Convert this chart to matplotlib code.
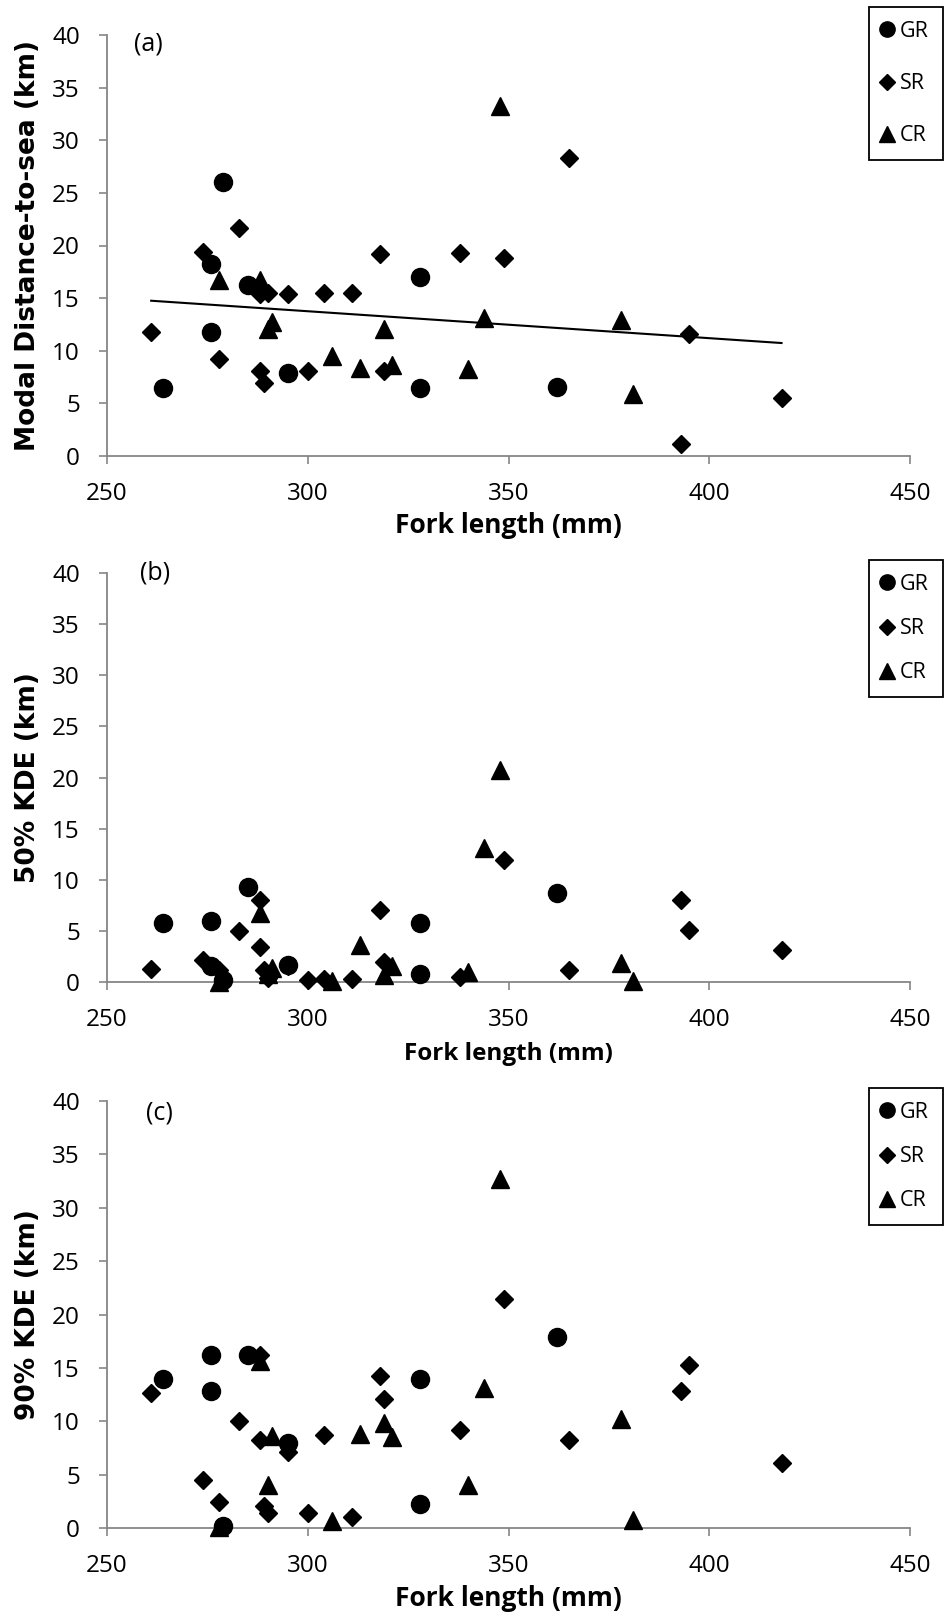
import numpy as np
import matplotlib
matplotlib.use("Agg")
import matplotlib.pyplot as plt
from matplotlib.lines import Line2D

# ---------------- data ----------------
GR_FL = [264, 276, 276, 279, 285, 295, 328, 328, 362]
GR_modal = [6.5, 18.2, 11.75, 26.0, 16.2, 7.85, 17.0, 6.5, 6.6]
GR_kde50 = [5.78, 6.0, 1.55, 0.15, 9.3, 1.67, 5.75, 0.78, 8.67]
GR_kde90 = [13.96, 16.16, 12.8, 0.2, 16.25, 8.0, 13.96, 2.28, 17.85]

SR_FL = [261, 274, 278, 283, 288, 288, 289, 290, 295, 300, 304, 311, 318, 319,
         338, 349, 365, 393, 395, 418]
SR_modal = [11.75, 19.35, 9.2, 21.65, 15.4, 8.1, 6.9, 15.5, 15.4, 8.05, 15.45,
            15.45, 19.2, 8.05, 19.3, 18.85, 28.3, 1.15, 11.6, 5.55]
SR_kde50 = [1.24, 2.2, 1.2, 5.03, 8.05, 3.46, 1.18, 0.36, 1.6, 0.24, 0.3, 0.33,
            7.06, 2.0, 0.5, 11.95, 1.18, 8.05, 5.04, 3.09]
SR_kde90 = [12.65, 4.5, 2.45, 10.0, 16.25, 8.2, 2.1, 1.4, 7.1, 1.42, 8.75, 1.0,
            14.25, 12.1, 9.15, 21.45, 8.2, 12.85, 15.3, 6.05]

CR_FL = [278, 288, 290, 291, 306, 313, 319, 321, 340, 344, 348, 378, 381]
CR_modal = [16.7, 16.7, 12.1, 12.75, 9.5, 8.35, 12.1, 8.6, 8.3, 13.15, 33.3, 12.9, 5.9]
CR_kde50 = [0.0, 6.7, 0.8, 1.4, 0.05, 3.65, 0.7, 1.6, 1.0, 13.1, 20.7, 1.85, 0.1]
CR_kde90 = [0.1, 15.6, 4.05, 8.6, 0.7, 8.8, 9.8, 8.5, 4.0, 13.1, 32.7, 10.2, 0.75]

series_labels = ["GR", "SR", "CR"]
panel_letters = ["(a)", "(b)", "(c)"]
y_titles = ["Modal Distance-to-sea (km)", "50% KDE (km)", "90% KDE (km)"]
x_title = "Fork length (mm)"
x_ticks = [250, 300, 350, 400, 450]
y_ticks = [0, 5, 10, 15, 20, 25, 30, 35, 40]

# ---------------- layout ----------------
W, H = 946, 1618
fig = plt.figure(figsize=(W / 100, H / 100), dpi=100)

AX_L, AX_R = 107, 910
panels = [  # (top px, bottom px, xlabel centre px, xlabel size, legend top, label spacing)
    (35, 456, 525, 19, 7, 1.45),
    (573, 982, 1054, 17.5, 560, 1.08),
    (1101, 1528, 1599, 19, 1088, 1.08),
]
letter_pos = [(148, 44), (155, 573), (159, 1113)]

GREY = "#868686"
TICKFONT = "Open Sans"

markers = {"GR": ("o", 13), "SR": ("D", 9.3), "CR": ("^", 12.5)}
leg_markers = {"GR": ("o", 11), "SR": ("D", 7.8), "CR": ("^", 11)}

datasets = [
    (GR_modal, SR_modal, CR_modal),
    (GR_kde50, SR_kde50, CR_kde50),
    (GR_kde90, SR_kde90, CR_kde90),
]
fls = (GR_FL, SR_FL, CR_FL)

for i, (top, bot, xl_c, xl_size, leg_top, lspace) in enumerate(panels):
    ax = fig.add_axes([AX_L / W, 1 - bot / H, (AX_R - AX_L) / W, (bot - top) / H])
    for name, fl, vals in zip(series_labels, fls, datasets[i]):
        m, ms = markers[name]
        ax.plot(fl, vals, linestyle="none", marker=m, markersize=ms,
                color="black", markeredgecolor="black", clip_on=False, zorder=3)

    if i == 0:
        all_x = np.array(GR_FL + SR_FL + CR_FL, dtype=float)
        all_y = np.array(GR_modal + SR_modal + CR_modal, dtype=float)
        slope, intercept = np.polyfit(all_x, all_y, 1)
        xx = np.array([all_x.min(), all_x.max()])
        ax.plot(xx, slope * xx + intercept, color="black", linewidth=1.5, zorder=2)

    ax.set_xlim(250, 450)
    ax.set_ylim(0, 40)
    ax.set_xticks(x_ticks)
    ax.set_yticks(y_ticks)
    for s in ("top", "right"):
        ax.spines[s].set_visible(False)
    for s in ("left", "bottom"):
        ax.spines[s].set_color(GREY)
        ax.spines[s].set_linewidth(1.3)
    ax.tick_params(axis="both", direction="out", length=6, width=1.2, color=GREY,
                   labelsize=17.5, labelcolor="black")
    ax.tick_params(axis="y", pad=13.5)
    ax.tick_params(axis="x", pad=13)
    for lab in ax.get_xticklabels() + ax.get_yticklabels():
        lab.set_fontfamily(TICKFONT)

    h_px = bot - top
    ax.set_xlabel(x_title, fontsize=xl_size, fontweight="bold",
                  family=[TICKFONT, "DejaVu Sans"], va="center")
    ax.xaxis.set_label_coords(0.5, -(xl_c - bot) / h_px)
    ax.set_ylabel(y_titles[i], fontsize=19, fontweight="bold",
                  family="DejaVu Sans", va="center")
    ax.yaxis.set_label_coords((28 - AX_L) / (AX_R - AX_L), 0.5)

    lx, ly = letter_pos[i]
    fig.text(lx / W, 1 - ly / H, panel_letters[i], fontsize=18, family=TICKFONT,
             ha="center", va="center")

    handles = [Line2D([], [], linestyle="none", marker=leg_markers[n][0],
                      markersize=leg_markers[n][1], color="black") for n in series_labels]
    leg = ax.legend(handles, series_labels, loc="upper right",
                    bbox_to_anchor=(943 / W, 1 - leg_top / H),
                    bbox_transform=fig.transFigure, frameon=True, fancybox=False,
                    edgecolor="black", framealpha=1, borderpad=0.65,
                    handlelength=0.35, handletextpad=0.45, labelspacing=lspace,
                    prop={"family": TICKFONT, "size": 15.5}, borderaxespad=0)
    leg.get_frame().set_linewidth(1.3)
    leg.set_zorder(5)

fig.savefig("out.png", dpi=100)
